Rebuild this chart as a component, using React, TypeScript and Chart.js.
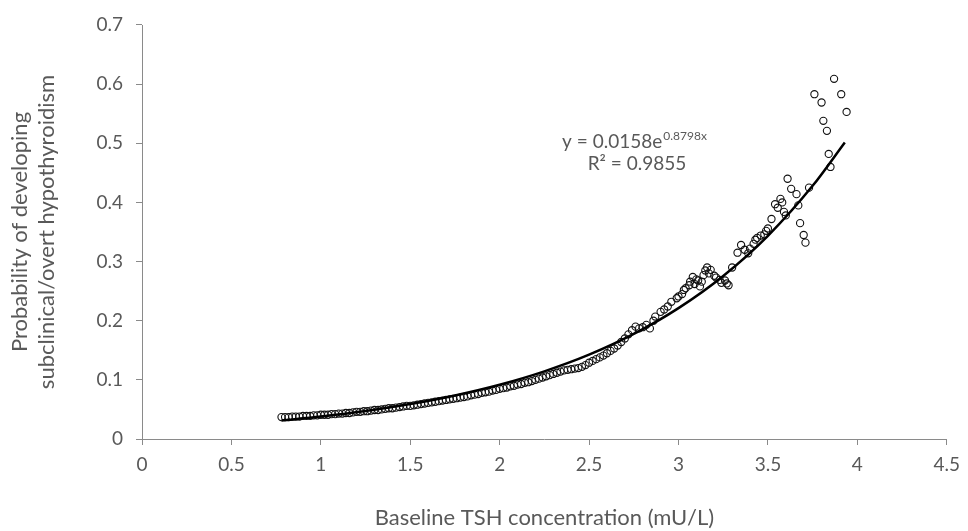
import React, { useEffect, useRef } from 'react';
import { Chart, registerables } from 'chart.js';

Chart.register(...registerables);

// Observed points: baseline TSH (mU/L) and probability
const tshValues = [
  0.78, 0.80, 0.82, 0.84, 0.86, 0.88, 0.90, 0.92, 0.94, 0.96, 0.98,
  1.00, 1.02, 1.04, 1.06, 1.08, 1.10, 1.12, 1.14, 1.16, 1.18,
  1.20, 1.22, 1.24, 1.26, 1.28, 1.30, 1.32, 1.34, 1.36, 1.38,
  1.40, 1.42, 1.44, 1.46, 1.48, 1.50, 1.52, 1.54, 1.56, 1.58,
  1.60, 1.62, 1.64, 1.66, 1.68, 1.70, 1.72, 1.74, 1.76, 1.78,
  1.80, 1.82, 1.84, 1.86, 1.88, 1.90, 1.92, 1.94, 1.96, 1.98,
  2.00, 2.02, 2.04, 2.06, 2.08, 2.10, 2.12, 2.14, 2.16, 2.18,
  2.20, 2.22, 2.24, 2.26, 2.28, 2.30, 2.32, 2.34, 2.36, 2.38,
  2.40, 2.42, 2.44, 2.46, 2.48, 2.50, 2.52, 2.54, 2.56, 2.58,
  2.60, 2.62, 2.64, 2.66, 2.68, 2.70, 2.72, 2.74,
  2.76, 2.78, 2.80, 2.82, 2.84, 2.86, 2.87, 2.90, 2.92, 2.94, 2.96, 2.99,
  3.00, 3.02, 3.03, 3.04, 3.06, 3.065, 3.08, 3.09, 3.10, 3.11, 3.12, 3.13,
  3.14, 3.15, 3.16, 3.17, 3.18, 3.20, 3.21, 3.23, 3.24, 3.26, 3.27, 3.28,
  3.30, 3.33, 3.35, 3.37, 3.39, 3.40, 3.42, 3.43, 3.44, 3.46, 3.48, 3.49,
  3.50, 3.52, 3.54, 3.555, 3.57, 3.58, 3.59, 3.60, 3.61, 3.63, 3.66, 3.67,
  3.68, 3.70, 3.71, 3.73, 3.76, 3.80, 3.81, 3.83, 3.84, 3.85, 3.87, 3.91, 3.94,
];

const probValues = [
  0.037, 0.037, 0.037, 0.038, 0.038, 0.038, 0.039, 0.039, 0.039, 0.040, 0.040,
  0.041, 0.041, 0.041, 0.042, 0.042, 0.043, 0.043, 0.044, 0.044, 0.045,
  0.046, 0.046, 0.047, 0.047, 0.048, 0.049, 0.049, 0.050, 0.051, 0.052,
  0.052, 0.053, 0.054, 0.055, 0.056, 0.056, 0.057, 0.058, 0.059, 0.060,
  0.061, 0.062, 0.063, 0.064, 0.065, 0.066, 0.067, 0.068, 0.069, 0.070,
  0.071, 0.072, 0.074, 0.075, 0.076, 0.078, 0.079, 0.080, 0.082, 0.083,
  0.085, 0.086, 0.087, 0.089, 0.090, 0.092, 0.093, 0.095, 0.096, 0.098,
  0.100, 0.102, 0.104, 0.106, 0.108, 0.110, 0.112, 0.114, 0.116, 0.117,
  0.118, 0.119, 0.120, 0.122, 0.125, 0.129, 0.132, 0.135, 0.138, 0.141,
  0.145, 0.149, 0.153, 0.158, 0.164, 0.170, 0.177, 0.184,
  0.190, 0.187, 0.189, 0.193, 0.187, 0.200, 0.207, 0.215, 0.219, 0.224, 0.232, 0.238,
  0.241, 0.245, 0.252, 0.255, 0.260, 0.266, 0.274, 0.262, 0.270, 0.268, 0.258, 0.266,
  0.277, 0.285, 0.290, 0.280, 0.286, 0.276, 0.273, 0.269, 0.264, 0.268, 0.263, 0.260,
  0.290, 0.315, 0.328, 0.320, 0.314, 0.322, 0.330, 0.337, 0.340, 0.344, 0.346, 0.352,
  0.356, 0.372, 0.397, 0.391, 0.406, 0.400, 0.384, 0.378, 0.440, 0.423, 0.414, 0.395,
  0.365, 0.345, 0.332, 0.425, 0.583, 0.569, 0.538, 0.521, 0.482, 0.460, 0.609, 0.583, 0.553,
];

// Exponential trendline (y = 0.0158e^0.8798x), sampled values
const trendX = [0.78, 1.0, 1.25, 1.5, 1.75, 2.0, 2.25, 2.5, 2.75, 3.0, 3.25, 3.5, 3.75, 3.93];
const trendY = [0.0314, 0.0381, 0.0474, 0.0591, 0.0737, 0.0918, 0.1144, 0.1425, 0.1776, 0.2213, 0.2757, 0.3436, 0.4281, 0.5015];

const xTickLabels = ['0', '0.5', '1', '1.5', '2', '2.5', '3', '3.5', '4', '4.5'];
const yTickLabels = ['0', '0.1', '0.2', '0.3', '0.4', '0.5', '0.6', '0.7'];

const xTitle = 'Baseline TSH concentration (mU/L)';
const yTitle = ['Probability of developing', 'subclinical/overt hypothyroidism'];
const equationMain = 'y = 0.0158e';
const equationExp = '0.8798x';
const rSquaredText = 'R\u00B2 = 0.9855';

const FONT = 'Lato, "Open Sans", sans-serif';
const TEXT = '#595959';
const AXIS = '#8a8a8a';

const equationPlugin = {
  id: 'equation',
  afterDraw(chart: any) {
    const { ctx, chartArea } = chart;
    const cx1 = chartArea.left + 492;
    const cx2 = chartArea.left + 495;
    ctx.save();
    ctx.fillStyle = TEXT;
    ctx.textBaseline = 'alphabetic';
    ctx.textAlign = 'left';
    const mainFont = `19px ${FONT}`;
    const supFont = `12px ${FONT}`;
    ctx.font = mainFont;
    const w1 = ctx.measureText(equationMain).width;
    ctx.font = supFont;
    const w2 = ctx.measureText(equationExp).width;
    const start = cx1 - (w1 + w2) / 2;
    ctx.font = mainFont;
    ctx.fillText(equationMain, start, chartArea.top + 123);
    ctx.font = supFont;
    ctx.fillText(equationExp, start + w1 + 1, chartArea.top + 115);
    ctx.font = mainFont;
    ctx.textAlign = 'center';
    ctx.fillText(rSquaredText, cx2, chartArea.top + 145);
    ctx.restore();
  },
};

export default function App() {
  const canvasRef = useRef<HTMLCanvasElement | null>(null);

  useEffect(() => {
    document.body.style.margin = '0';
    const canvas = canvasRef.current;
    if (!canvas) return;
    const points = tshValues.map((x, i) => ({ x, y: probValues[i] }));
    const trend = trendX.map((x, i) => ({ x, y: trendY[i] }));

    const chart = new Chart(canvas, {
      type: 'scatter',
      data: {
        datasets: [
          {
            type: 'line',
            label: 'Trend',
            data: trend,
            borderColor: '#000000',
            borderWidth: 2.5,
            pointRadius: 0,
            fill: false,
            cubicInterpolationMode: 'monotone',
            order: 0,
          } as any,
          {
            type: 'scatter',
            label: 'Observed',
            data: points,
            pointStyle: 'circle',
            pointRadius: 3.6,
            borderWidth: 1.1,
            borderColor: '#111111',
            backgroundColor: 'rgba(255,255,255,0)',
            order: 1,
          } as any,
        ],
      },
      options: {
        animation: false,
        responsive: false,
        maintainAspectRatio: false,
        events: [],
        layout: { padding: { left: 0, right: 14, top: 25, bottom: 0 } },
        plugins: {
          legend: { display: false },
          tooltip: { enabled: false },
        },
        scales: {
          x: {
            type: 'linear',
            min: 0,
            max: 4.5,
            afterFit: (scale: any) => {
              scale.height = 92;
            },
            afterBuildTicks: (scale: any) => {
              scale.ticks = xTickLabels.map((_, i) => ({ value: i * 0.5 }));
            },
            ticks: {
              callback: (_v: any, i: number) => xTickLabels[i],
              color: TEXT,
              font: { family: FONT, size: 19 },
              padding: 8,
              maxRotation: 0,
              autoSkip: false,
            },
            grid: {
              drawOnChartArea: false,
              drawTicks: true,
              tickLength: 6,
              color: AXIS,
            },
            border: { display: true, color: AXIS, width: 1 },
            title: {
              display: true,
              text: xTitle,
              color: TEXT,
              font: { family: FONT, size: 22 },
              padding: { top: 0, bottom: 0 },
            },
          },
          y: {
            type: 'linear',
            min: 0,
            max: 0.7,
            afterFit: (scale: any) => {
              scale.width = 142;
            },
            afterBuildTicks: (scale: any) => {
              scale.ticks = yTickLabels.map((_, i) => ({ value: i * 0.1 }));
            },
            ticks: {
              callback: (_v: any, i: number) => yTickLabels[i],
              color: TEXT,
              font: { family: FONT, size: 19 },
              padding: 13,
              autoSkip: false,
            },
            grid: {
              drawOnChartArea: false,
              drawTicks: true,
              tickLength: 6,
              color: AXIS,
            },
            border: { display: true, color: AXIS, width: 1 },
            title: {
              display: true,
              text: yTitle,
              color: TEXT,
              font: { family: FONT, size: 22 },
              padding: { top: 7, bottom: 0 },
            },
          },
        },
      },
      plugins: [equationPlugin],
    } as any);

    return () => {
      chart.destroy();
    };
  }, []);

  return (
    <div style={{ width: 968, height: 531, position: 'relative', background: '#ffffff' }}>
      <canvas ref={canvasRef} width={968} height={531} style={{ display: 'block' }} />
    </div>
  );
}
